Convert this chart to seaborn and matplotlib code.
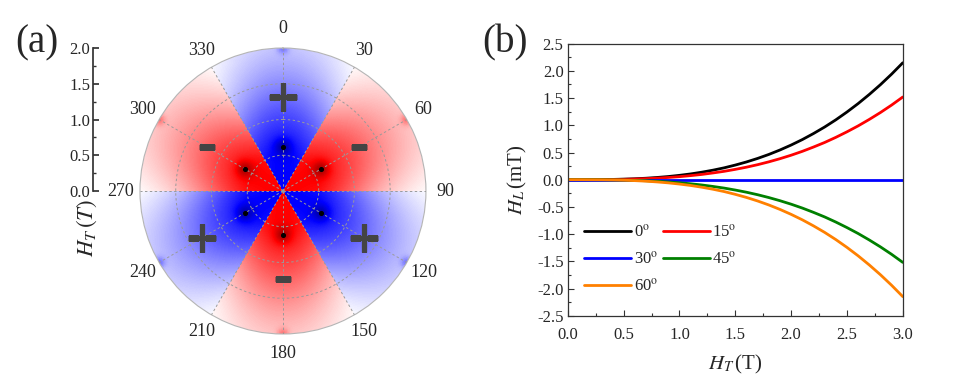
import numpy as np
import pandas as pd
import matplotlib
matplotlib.use("Agg")
import matplotlib.pyplot as plt
import seaborn as sns
from matplotlib.colors import LinearSegmentedColormap
from matplotlib.ticker import MultipleLocator

# ---------------- data ----------------
ht = [0.0, 0.1, 0.2, 0.3, 0.4, 0.5, 0.6, 0.7, 0.8, 0.9, 1.0, 1.1, 1.2, 1.3, 1.4, 1.5,
      1.6, 1.7, 1.8, 1.9, 2.0, 2.1, 2.2, 2.3, 2.4, 2.5, 2.6, 2.7, 2.8, 2.9, 3.0]
hl_0 = [0.0, 0.000, 0.001, 0.002, 0.005, 0.010, 0.017, 0.027, 0.041, 0.058, 0.080,
        0.106, 0.138, 0.175, 0.218, 0.269, 0.326, 0.391, 0.464, 0.546, 0.637,
        0.737, 0.848, 0.968, 1.100, 1.244, 1.399, 1.567, 1.747, 1.941, 2.149]
hl_15 = [0.0, 0.000, 0.000, 0.001, 0.004, 0.007, 0.012, 0.019, 0.029, 0.041, 0.056,
         0.075, 0.097, 0.124, 0.154, 0.190, 0.230, 0.276, 0.328, 0.386, 0.450,
         0.521, 0.600, 0.684, 0.778, 0.880, 0.989, 1.108, 1.235, 1.372, 1.520]
hl_30 = [0.0] * 31
hl_45 = [-v for v in hl_15]
hl_60 = [-v for v in hl_0]
series_labels = ["0$^\\mathrm{o}$", "15$^\\mathrm{o}$", "30$^\\mathrm{o}$", "45$^\\mathrm{o}$", "60$^\\mathrm{o}$"]
series_colors = ["#000000", "#ff0000", "#0000ff", "#008000", "#ff8000"]

theta_ticks = [0, 30, 60, 90, 120, 150, 180, 210, 240, 270, 300, 330]
theta_labels = [str(t) for t in theta_ticks]
radial_ticks = [0.0, 0.5, 1.0, 1.5, 2.0]
radial_labels = ["0.0", "0.5", "1.0", "1.5", "2.0"]
dot_angles = [0, 60, 120, 180, 240, 300]
dot_r = 0.62
plus_angles = [0, 120, 240]
plus_r = 1.31
minus_angles = [60, 180, 300]
minus_r = 1.23

# ---------------- style ----------------
sns.set_theme(style="ticks")
plt.rcParams["font.family"] = ["Liberation Serif", "DejaVu Serif"]
plt.rcParams["mathtext.fontset"] = "stix"
plt.rcParams["axes.edgecolor"] = "#333333"

fig = plt.figure(figsize=(9.6, 3.78), dpi=100)
fig.patch.set_facecolor("white")

# ---------------- panel (a): polar map ----------------
axp = fig.add_axes([0.1458, 0.1164, 0.2979, 0.7566], projection="polar")
th_e = np.linspace(0, 2 * np.pi, 1441)
r_e = np.linspace(0, 2.0, 401)
th_c = 0.5 * (th_e[:-1] + th_e[1:])
r_c = 0.5 * (r_e[:-1] + r_e[1:])
TH, R = np.meshgrid(th_c, r_c)
k = np.round(TH / (np.pi / 3)).astype(int)
phi_c = k * (np.pi / 3)
sgn = np.where(k % 2 == 0, 1.0, -1.0)
delta = np.abs(TH - phi_c)
d1 = np.sqrt(R**2 + dot_r**2 - 2 * R * dot_r * np.cos(TH - phi_c))
d2 = np.sqrt(R**2 + 4.0 - 4.0 * R * np.cos(TH - phi_c))
w = np.minimum(1.0, 0.9 * (R / 2.0) ** 2)
base = np.minimum(1.0, 1.1 * np.exp(-(R / 1.6) ** 2)) * (1 - w * (1 - np.cos(3 * delta)))
inten = base + 0.3 * np.exp(-(d1 / 0.12) ** 2) + 0.3 * np.exp(-(d2 / 0.08) ** 2)
V = np.clip(sgn * inten * 0.75, -1, 1)
cmap = LinearSegmentedColormap.from_list(
    "rb", [(0, "#900000"), (0.125, "#ff0000"), (0.5, "#ffffff"), (0.875, "#0000ff"), (1, "#000090")])
axp.pcolormesh(th_e, r_e, V, cmap=cmap, vmin=-1, vmax=1, shading="flat", rasterized=True)
axp.set_theta_zero_location("N")
axp.set_theta_direction(-1)
axp.set_ylim(0, 2.0)
axp.set_xticks(np.deg2rad(theta_ticks))
axp.set_xticklabels(theta_labels, fontsize=13)
axp.tick_params(axis="x", pad=1)
axp.set_yticks([0.5, 1.0, 1.5])
axp.set_yticklabels([])
axp.set_axisbelow(False)
axp.grid(True, color="#9a9a9a", ls=(0, (2.5, 2.5)), lw=0.7)
axp.spines["polar"].set_color("#b5b5b5")
axp.spines["polar"].set_linewidth(0.8)
axp.scatter(np.deg2rad(dot_angles), [dot_r] * len(dot_angles), s=7, color="black", zorder=5)
axp.plot(np.deg2rad(plus_angles), [plus_r] * 3, ls="none", marker="+", ms=19.5, mew=3.8,
         color="#444444", zorder=6)
axp.plot(np.deg2rad(minus_angles), [minus_r] * 3, ls="none", marker="_", ms=11, mew=3.8,
         color="#444444", zorder=6)

# radial scale axis
axr = fig.add_axes([93 / 960, 1 - 191 / 378, 0.0005, 143 / 378])
axr.patch.set_visible(False)
for s in ["top", "right", "bottom"]:
    axr.spines[s].set_visible(False)
axr.spines["left"].set_color("#333333")
axr.set_ylim(0, 2.0)
axr.set_yticks(radial_ticks)
axr.set_yticklabels(radial_labels, fontsize=12)
axr.yaxis.set_minor_locator(MultipleLocator(0.25))
axr.tick_params(axis="y", which="major", direction="in", length=4, pad=2, color="#333333")
axr.tick_params(axis="y", which="minor", direction="in", length=2.5, color="#333333")
axr.set_xticks([])
fig.text(87 / 960, 1 - 228 / 378, r"$H_T\,(T)$", rotation=90, ha="center", va="center", fontsize=16.5)
fig.text(37 / 960, 1 - 43 / 378, "(a)", ha="center", va="center", fontsize=28)

# ---------------- panel (b): line plot ----------------
axb = fig.add_axes([0.5914, 0.1648, 0.3490, 0.7196])
for y, lab, c in zip([hl_0, hl_15, hl_30, hl_45, hl_60], series_labels, series_colors):
    sns.lineplot(x=ht, y=y, color=c, lw=2.0, ax=axb, label=lab)
axb.set_xlim(0, 3.0)
axb.set_ylim(-2.5, 2.5)
axb.xaxis.set_minor_locator(MultipleLocator(0.25))
axb.yaxis.set_minor_locator(MultipleLocator(0.25))
axb.set_xticks(np.arange(0, 3.01, 0.5))
axb.set_xticklabels(["%.1f" % v for v in np.arange(0, 3.01, 0.5)], fontsize=12)
axb.set_yticks(np.arange(-2.5, 2.51, 0.5))
axb.set_yticklabels(["%.1f" % v for v in np.arange(-2.5, 2.51, 0.5)], fontsize=12)
axb.tick_params(which="major", direction="in", length=4, width=0.8, color="#333333", pad=3)
axb.tick_params(axis="x", which="major", pad=8)
axb.tick_params(which="minor", direction="in", length=2.5, width=0.8, color="#333333")
for s in axb.spines.values():
    s.set_linewidth(0.9)
axb.set_xlabel(r"$H_T\,$(T)", fontsize=15, labelpad=7)
axb.set_ylabel(r"$H_L\,$(mT)", fontsize=15, labelpad=6)
h, l = axb.get_legend_handles_labels()
order = [0, 2, 4, 1, 3]
axb.legend([h[i] for i in order], [l[i] for i in order], ncol=2, frameon=False,
           loc="upper left", bbox_to_anchor=(0.05, 0.337), fontsize=12,
           handlelength=2.8, handletextpad=0.15, columnspacing=0.3,
           labelspacing=0.6, borderpad=0, borderaxespad=0)
fig.text(505 / 960, 1 - 43 / 378, "(b)", ha="center", va="center", fontsize=28)

fig.savefig("out.png", dpi=100, facecolor="white")
